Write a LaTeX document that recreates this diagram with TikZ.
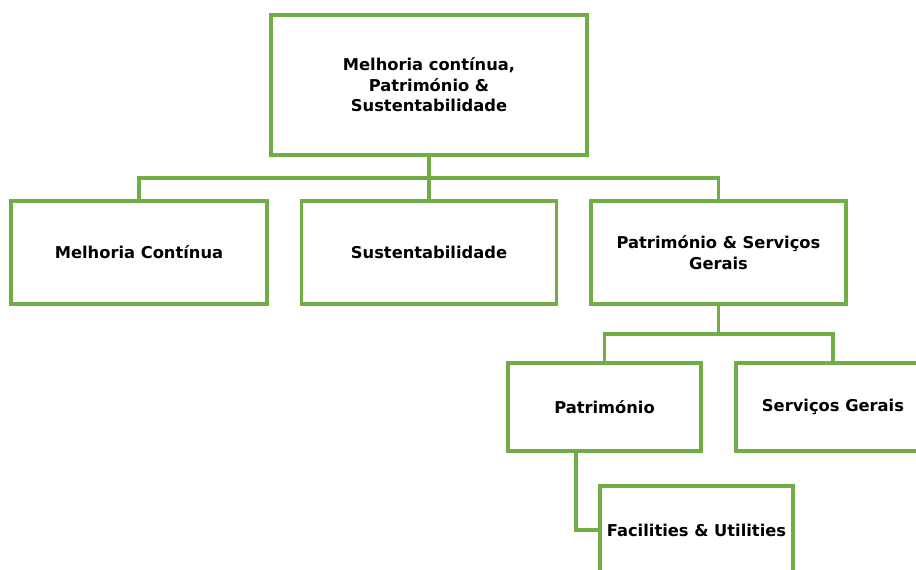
\documentclass[tikz,border=0pt]{standalone}
\usepackage{fontspec}
\setmainfont{DejaVu Sans}
\definecolor{boxgreen}{HTML}{70AD47}
\begin{document}
\begin{tikzpicture}[x=1pt,y=-1pt,
  orgbox/.style={draw=boxgreen,line width=3.2pt,fill=white,align=center,inner sep=0pt,
    font=\bfseries\fontsize{16.3}{20.5}\selectfont},
  link/.style={draw=boxgreen,line width=3.2pt}]
\useasboundingbox (0,0) rectangle (916,570);
\clip (0,0) rectangle (916,570);
\node[orgbox,minimum width=316,minimum height=140] (top) at (429,85) {Melhoria contínua,\\Património \&\\Sustentabilidade};
\node[orgbox,minimum width=256,minimum height=103] (mc) at (139,252.5) {Melhoria Contínua};
\node[orgbox,minimum width=255,minimum height=103] (s) at (429,252.5) {Sustentabilidade};
\node[orgbox,minimum width=255,minimum height=103] (psg) at (718.5,252.5) {Património \& Serviços\\Gerais};
\node[orgbox,minimum width=193,minimum height=88] (pat) at (604.5,407) {Património};
\node[orgbox,minimum width=194,minimum height=88] (sg) at (833,407) {Serviços Gerais};
\node[orgbox,minimum width=193,minimum height=88] (fu) at (696.5,530) {Facilities \& Utilities};
\coordinate (b1) at (429,178);
\coordinate (b2) at (718.5,334);
\draw[link] (top.south) -- (b1);
\draw[link] (b1) -| (mc.north);
\draw[link] (b1) -| (psg.north);
\draw[link] (b1) -- (s.north);
\draw[link] (psg.south) -- (b2);
\draw[link] (b2) -| (pat.north);
\draw[link] (b2) -| (sg.north);
\draw[link] ([xshift=-28.5pt]pat.south) |- (fu.west);
\end{tikzpicture}
\end{document}
